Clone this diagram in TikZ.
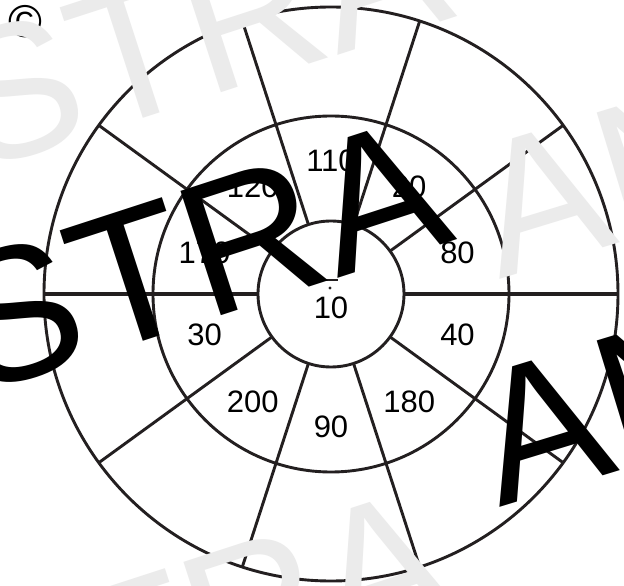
\documentclass[tikz,border=0pt]{standalone}
\usepackage{fontspec}
\setmainfont{Liberation Sans}
\usepackage{xcolor}
\definecolor{ink}{HTML}{231F20}
\definecolor{wmgrey}{HTML}{EBEBEB}

\begin{document}
\begin{tikzpicture}[x=1pt, y=1pt,
  ring/.style={draw=ink, line width=2.9pt},
  spoke/.style={draw=ink, line width=2.9pt},
  num/.style={font=\fontsize{31}{31}\selectfont, inner sep=0pt},
  wmark/.style={font=\fontsize{190}{190}\selectfont, inner sep=0pt}]
\fill[white] (-331,-292) rectangle (293,294);
\useasboundingbox (-331,-292) rectangle (293,294);
\clip (-331,-292) rectangle (293,294);

\node[font=\fontsize{46}{46}\selectfont, inner sep=0pt] (copy) at (-306,272) {\textcopyright};

% rings
\draw[ring] (0,0) circle[radius=287];
\draw[ring] (0,0) circle[radius=178];
\draw[ring] (0,0) circle[radius=73];

% spokes, inner ring to outer ring
\foreach \a in {36,72,...,144,216,252,...,324}
  \draw[spoke] (\a:73) -- (\a:287);
\foreach \a in {0,180}
  \draw[spoke, line width=3.5pt] (\a:73) -- (\a:287);

% sector values
\foreach \a/\t in {90/110, 54/20, 18/80, -18/40, -54/180, -90/90,
                   -126/200, -162/30, 162/170, 126/120}
  \node[num] (v\t) at (\a:133) {\t};
\node[num] (v10) at (0,-14) {10};
\draw[ink, line width=2pt] (-8,14) -- (7,14);
\fill[ink] (-1,6) circle[radius=1.6];

% watermarks
\node[wmark, text=wmgrey, anchor=base east, rotate=18] (wmtop) at (127,278) {STRA};
\node[wmark, text=wmgrey, anchor=base west, rotate=17] (wmright) at (168,14) {AN};
\node[wmark, text=wmgrey, anchor=base east, rotate=18] (wmbottom) at (130,-316) {STRA};
\node[wmark, anchor=base east, rotate=18] (wmstra) at (127,55) {STRA};
\node[wmark, anchor=base west, rotate=17] (wman) at (168,-214) {AN};
\end{tikzpicture}
\end{document}
